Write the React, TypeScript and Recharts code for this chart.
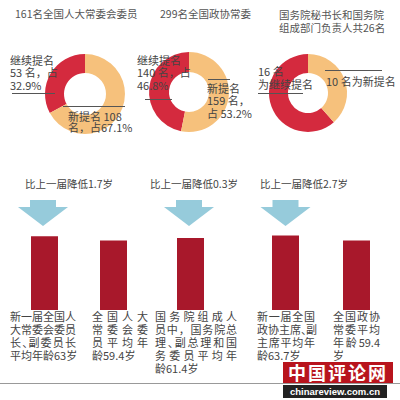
import { PieChart, Pie, Cell, BarChart, Bar, XAxis, YAxis } from 'recharts';

// donuts: [继续提名, 新提名]
const donutTitles = ['161名全国人大常委会委员', '299名全国政协常委', '国务院秘书长和国务院\n组成部门负责人共26名'];
const npcMembers = [53, 108];
const cppccMembers = [140, 159];
const councilMembers = [16, 10];
const sliceNames = ['继续提名', '新提名'];

// average ages
const ageValues = [63, 59.4, 61.4, 63.7, 59.4];
const ageLabels = [
  ['新一届全国人', '大常委会委员', '长、副委员长', '平均年龄63岁'],
  ['全国人大', '常委会委', '员平均年', '龄59.4岁'],
  ['国务院组成人', '员中，国务院总', '理、副总理和国', '务委员平均年', '龄61.4岁'],
  ['新一届全国', '政协主席、副', '主席平均年', '龄63.7岁'],
  ['全国政协', '常委平均', '年龄 59.4', '岁'],
];
const ageDrops = ['比上一届降低1.7岁', '比上一届降低0.3岁', '比上一届降低2.7岁'];
const groupSizes = [2, 1, 2];

const RED = '#d42a3e';
const PEACH = '#f6c17c';
const BAR = '#a8182b';
const ARROW = '#96cbdb';
const TEXT = '#444';
const FONT = '"Noto Sans CJK SC", "Noto Sans", sans-serif';

const toSlices = (vals: number[]) => vals.map((v, i) => ({ name: sliceNames[i], value: v }));

const donuts = [
  { data: toSlices(npcMembers), cx: 85, cy: 94, outer: 40, inner: 21 },
  { data: toSlices(cppccMembers), cx: 189, cy: 92, outer: 40, inner: 20 },
  { data: toSlices(councilMembers), cx: 308, cy: 93, outer: 39, inner: 20 },
];

// chart boxes for the three bar groups
const barBoxes = [
  { left: 10, width: 138 },
  { left: 163, width: 54 },
  { left: 250, width: 142 },
];
const labelBoxes = [
  { left: 10, width: 66 },
  { left: 92, width: 56 },
  { left: 155, width: 82 },
  { left: 257, width: 58 },
  { left: 333, width: 47 },
];
const arrowCenters = [43, 189, 285.5];
const dropLefts = [25, 150, 260];

// split a line into CJK glyphs and latin/digit runs
const tokens = (s: string) =>
  (s.match(/[\u3000-\u303f\u4e00-\u9fff\uff00-\uffef]|[^\u3000-\u303f\u4e00-\u9fff\uff00-\uffef]+/g) || [])
    .map((t) => t.trim())
    .filter(Boolean);

function Txt({ left, top, lines, size = 11, lh = 12.5, color = TEXT }: any) {
  return (
    <div
      style={{
        position: 'absolute',
        left,
        top,
        fontSize: size,
        lineHeight: `${lh}px`,
        color,
        whiteSpace: 'pre',
      }}
    >
      {lines}
    </div>
  );
}

function Arrow({ cx }: { cx: number }) {
  const pts = [
    [cx - 13, 200],
    [cx + 13, 200],
    [cx + 13, 207],
    [cx + 25, 207],
    [cx, 226],
    [cx - 25, 207],
    [cx - 13, 207],
  ]
    .map((p) => p.join(','))
    .join(' ');
  return <polygon points={pts} fill={ARROW} />;
}

export default function App() {
  let start = 0;
  const groups = groupSizes.map((n) => {
    const rows = ageValues.slice(start, start + n).map((v, i) => ({ name: `b${start + i}`, value: v }));
    start += n;
    return rows;
  });

  return (
    <div
      style={{
        position: 'absolute',
        left: 0,
        top: 0,
        width: 400,
        height: 400,
        background: '#fff',
        overflow: 'hidden',
        fontFamily: FONT,
      }}
    >
      <div style={{ position: 'absolute', left: 0, top: 0 }}>
        <PieChart width={400} height={145} margin={{ top: 0, right: 0, bottom: 0, left: 0 }}>
          {donuts.map((d, k) => (
            <Pie
              key={k}
              data={d.data}
              dataKey="value"
              cx={d.cx}
              cy={d.cy}
              innerRadius={d.inner}
              outerRadius={d.outer}
              startAngle={90}
              endAngle={450}
              stroke="none"
              isAnimationActive={false}
            >
              {d.data.map((_, i) => (
                <Cell key={i} fill={i === 0 ? RED : PEACH} />
              ))}
            </Pie>
          ))}
        </PieChart>
      </div>

      {groups.map((rows, g) => (
        <div key={g} style={{ position: 'absolute', left: barBoxes[g].left, top: 228 }}>
          <BarChart width={barBoxes[g].width} height={82} data={rows} margin={{ top: 0, right: 0, bottom: 0, left: 0 }}>
            <XAxis dataKey="name" hide />
            <YAxis hide domain={[0, 70]} />
            <Bar dataKey="value" fill={BAR} barSize={27} isAnimationActive={false} />
          </BarChart>
        </div>
      ))}

      <svg width={400} height={400} style={{ position: 'absolute', left: 0, top: 0 }}>
        {/* leader lines */}
        <g stroke="#555" strokeWidth={1}>
          <line x1={12} y1={93.5} x2={55} y2={93.5} />
          <line x1={63} y1={106.5} x2={125} y2={106.5} />
          <line x1={145} y1={99.5} x2={172} y2={99.5} />
          <line x1={208} y1={79.5} x2={230} y2={79.5} />
          <line x1={258} y1={93.5} x2={303} y2={93.5} />
          <line x1={325} y1={70.5} x2={382} y2={70.5} />
        </g>
        {arrowCenters.map((c, i) => (
          <Arrow key={i} cx={c} />
        ))}
        <line x1={0} y1={383.5} x2={400} y2={383.5} stroke="#999" strokeWidth={1} />
      </svg>

      {/* titles */}
      <Txt left={15} top={8} size={10.5} lines={donutTitles[0]} color="#555" />
      <Txt left={160} top={8} size={10.5} lines={donutTitles[1]} color="#555" />
      <Txt left={279} top={7.5} size={10.5} lh={13} lines={donutTitles[2]} color="#555" />

      {/* donut labels */}
      <Txt left={10} top={53.5} lines={`${sliceNames[0]}\n${npcMembers[0]} 名，占\n32.9%`} />
      <Txt left={68} top={110.5} lh={11.5} lines={`${sliceNames[1]} ${npcMembers[1]}\n名，占67.1%`} />
      <Txt left={137} top={53.5} lines={`${sliceNames[0]}\n${cppccMembers[0]} 名，占\n46.8%`} />
      <Txt left={207} top={81.5} lines={`${sliceNames[1]}\n${cppccMembers[1]} 名，\n占 53.2%`} />
      <Txt left={258} top={64.5} lh={13} lines={`${councilMembers[0]} 名\n为${sliceNames[0]}`} />
      <Txt left={326} top={74.5} lines={`${councilMembers[1]} 名为${sliceNames[1]}`} />

      {/* drops */}
      {ageDrops.map((t, i) => (
        <Txt key={i} left={dropLefts[i]} top={177} size={10.5} lh={14} lines={t} />
      ))}

      {/* bar labels, each line spread across its box */}
      {ageLabels.map((lines, i) => (
        <div
          key={i}
          style={{
            position: 'absolute',
            left: labelBoxes[i].left,
            top: 310,
            width: labelBoxes[i].width,
            fontSize: 11,
            lineHeight: '13px',
            color: TEXT,
          }}
        >
          {lines.map((l, j) => {
            const last = j === lines.length - 1 && i !== 0;
            return (
              <div
                key={j}
                style={{
                  display: 'flex',
                  justifyContent: last ? 'flex-start' : 'space-between',
                  whiteSpace: 'nowrap',
                }}
              >
                {tokens(l).map((t, k) => (
                  <span
                    key={k}
                    style={t === '、' ? { display: 'inline-block', width: 5, overflow: 'visible' } : undefined}
                  >
                    {t}
                  </span>
                ))}
              </div>
            );
          })}
        </div>
      ))}

      {/* watermark */}
      <div
        style={{
          position: 'absolute',
          left: 283,
          top: 362,
          width: 110,
          height: 21,
          background: '#b8141d',
          color: '#fff',
          fontSize: 18,
          fontWeight: 700,
          lineHeight: '21px',
          textAlign: 'center',
          letterSpacing: 2,
        }}
      >
        中国评论网
      </div>
      <div
        style={{
          position: 'absolute',
          left: 283,
          top: 385,
          width: 104,
          height: 13,
          background: '#222',
          color: '#fff',
          fontSize: 9.5,
          fontWeight: 700,
          lineHeight: '13px',
          textAlign: 'center',
          fontFamily: '"Liberation Sans", sans-serif',
        }}
      >
        chinareview.com.cn
      </div>
    </div>
  );
}
